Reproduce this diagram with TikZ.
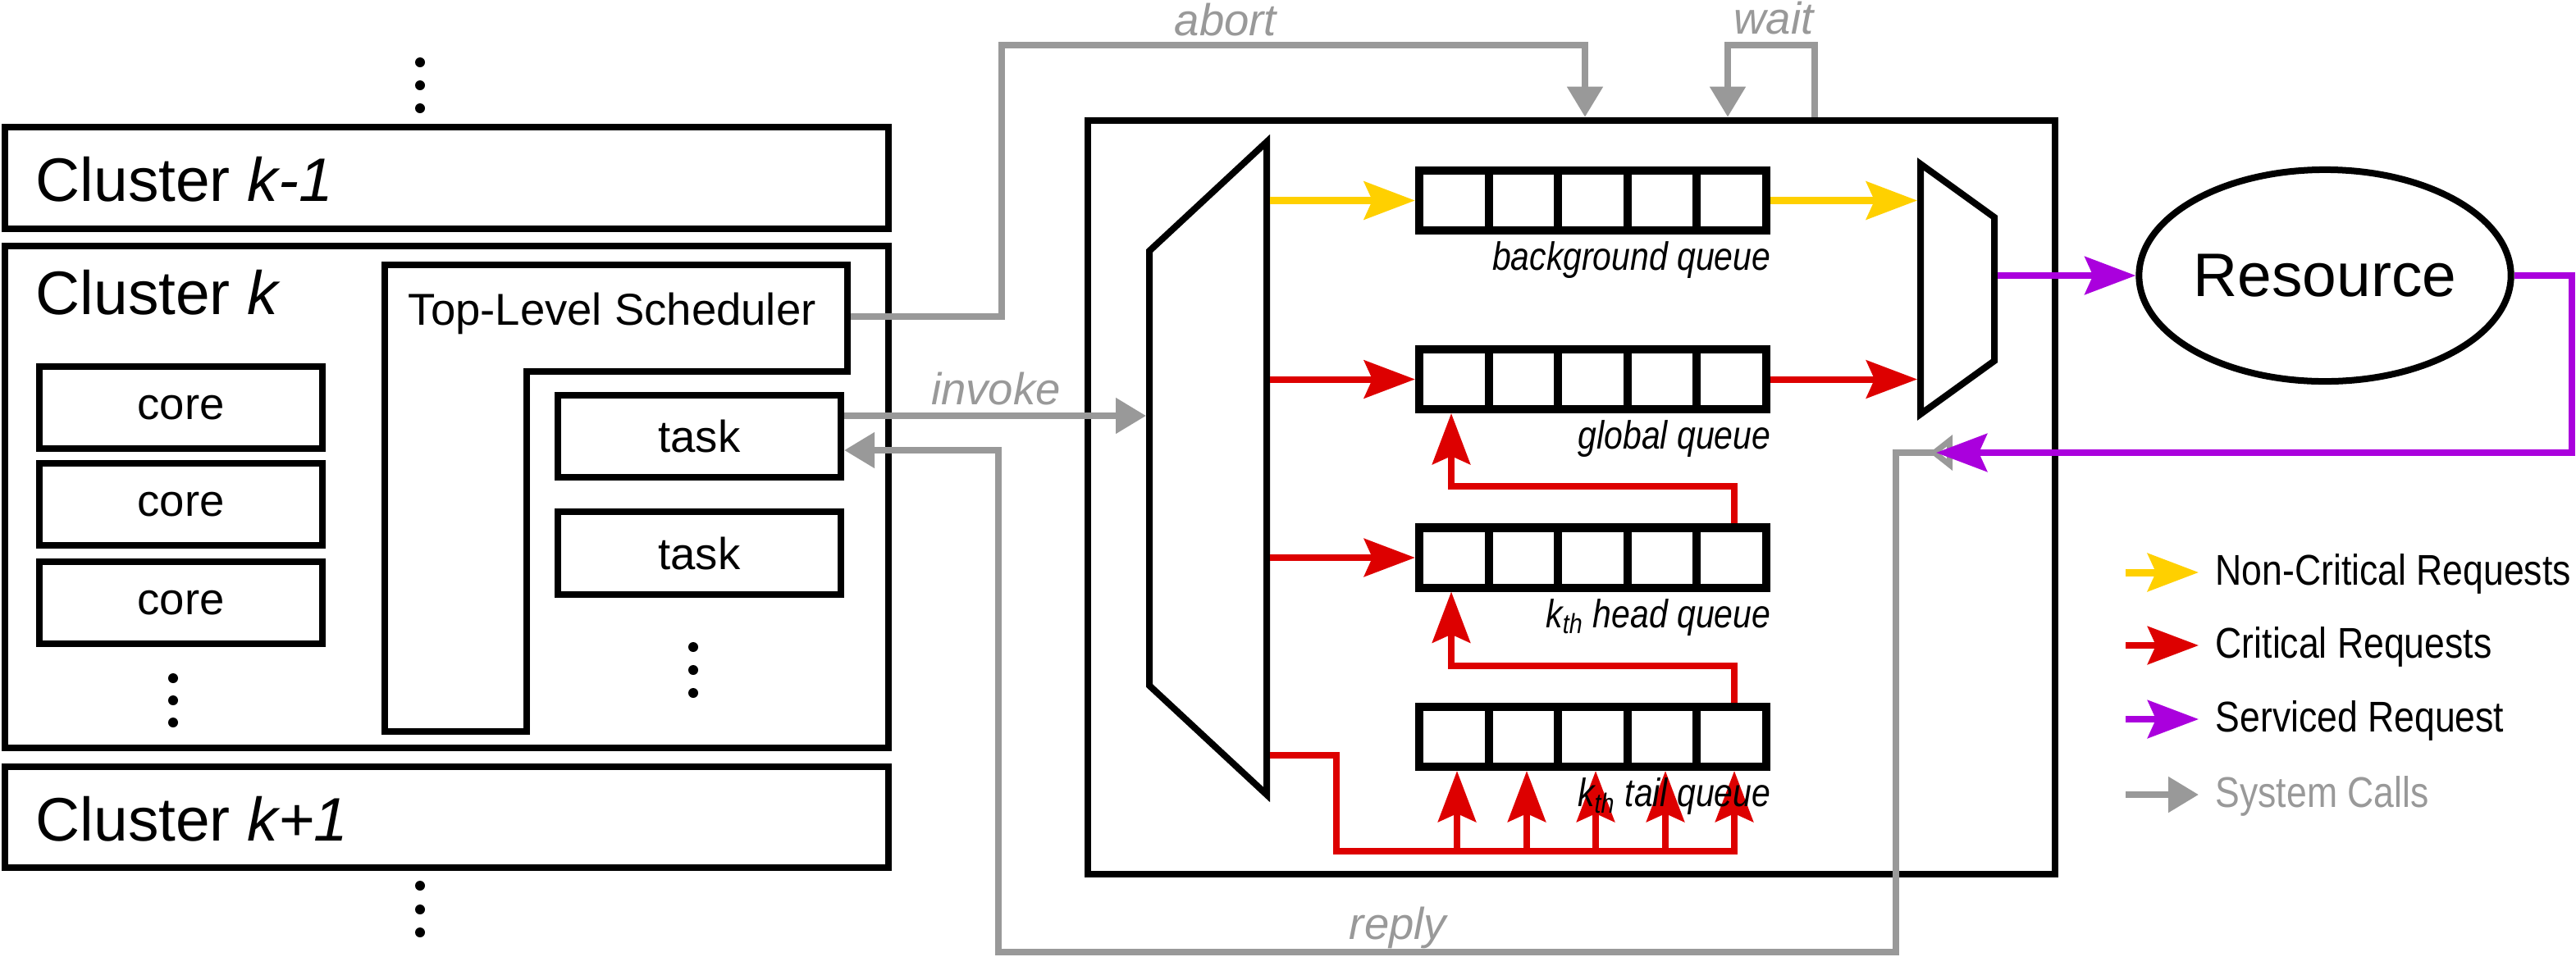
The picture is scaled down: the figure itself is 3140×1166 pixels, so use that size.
\documentclass[tikz,border=0pt]{standalone}
\usepackage{fontspec}
\setmainfont{Liberation Sans}
\newfontfamily\narrowfont[FakeStretch=0.85]{Liberation Sans}
\usetikzlibrary{arrows.meta,shapes.geometric,calc}
\definecolor{sysgray}{RGB}{153,153,153}
\definecolor{ncyellow}{RGB}{255,208,0}
\definecolor{crred}{RGB}{221,0,0}
\definecolor{svpurple}{RGB}{170,0,221}
\newcommand{\clfont}{\fontsize{21.3}{25}\selectfont}
\newcommand{\txfont}{\fontsize{15.5}{18}\selectfont}
\newcommand{\qfont}{\narrowfont\fontsize{13.7}{16}\selectfont\itshape}
\newcommand{\lgfont}{\narrowfont\fontsize{14.9}{17}\selectfont}
\begin{document}
\begin{tikzpicture}[x=0.01cm, y=-0.01cm,
    box/.style={draw, line width=0.08cm, inner sep=0pt},
    cluster/.style={box, minimum width=10.77cm},
    unit/.style={box, minimum width=3.45cm, minimum height=1cm, font=\txfont},
    queue/.style={draw, line width=0.1cm, inner sep=0pt, minimum width=4.23cm, minimum height=0.73cm},
    qlbl/.style={font=\qfont, anchor=base east, inner sep=0pt},
    syslbl/.style={font=\txfont\itshape, text=sysgray, anchor=base, inner sep=0pt},
    leglbl/.style={font=\lgfont, anchor=base west, inner sep=0pt},
    reqtip/.style={-{Stealth[length=0.62cm, width=0.46cm, inset=0.1cm]}},
    nreq/.style={draw=ncyellow, line width=0.09cm, reqtip},
    creq/.style={draw=crred, line width=0.08cm},
    creqa/.style={creq, reqtip},
    sreq/.style={draw=svpurple, line width=0.08cm},
    sreqa/.style={sreq, reqtip},
    sysc/.style={draw=sysgray, line width=0.08cm, -{Triangle[length=0.37cm, width=0.42cm]}}]
    \useasboundingbox (0,0) rectangle (3140,1166);

    % clusters
    \node[cluster, minimum height=1.24cm] (ckm) at (544.5,217) {};
    \node[cluster, minimum height=6.12cm] (ck) at (544.5,606) {};
    \node[cluster, minimum height=1.23cm] (ckp) at (544.5,996.5) {};
    \node[font=\clfont, anchor=base west, inner sep=0pt] (ckm-lbl) at (43,245) {Cluster \textit{k-1}};
    \node[font=\clfont, anchor=base west, inner sep=0pt] (ck-lbl) at (43,383) {Cluster \textit{k}};
    \node[font=\clfont, anchor=base west, inner sep=0pt] (ckp-lbl) at (43,1025) {Cluster \textit{k+1}};
    \foreach \y [count=\n] in {497,615,735}
        \node[unit] (core\n) at (220.5,\y) {core};
    \draw[box] (469,323) -- (1033,323) -- (1033,453) -- (642,453) -- (642,892) -- (469,892) -- cycle;
    \node[font=\txfont, anchor=base west, inner sep=0pt] (sched) at (497,396) {Top-Level Scheduler};
    \coordinate (sched-out) at (1037,386);
    \node[unit] (task1) at (852.5,532) {task};
    \node[unit] (task2) at (852.5,674.5) {task};
    \foreach \x/\y in {512/76, 512/104, 512/132, 512/1080, 512/1109, 512/1137,
                       211/827, 211/854, 211/881, 845/789, 845/817, 845/845}
        \fill (\x,\y) circle (0.06cm);

    % controller
    \node[box, minimum width=11.79cm, minimum height=9.19cm] (ctrl) at (1915.5,606.5) {};
    \draw[box] (1544,173) -- (1544,969) -- (1401,836) -- (1401,306) -- cycle;
    \draw[box] (2341,200) -- (2431,265) -- (2431,440) -- (2341,505) -- cycle;
    \coordinate (dm-in) at (1397,507);
    \foreach \q/\y/\txt in {bgq/244.5/background queue, glq/462.5/global queue,
                            hdq/680/k\textsubscript{th} head queue, tlq/898.5/k\textsubscript{th} tail queue} {
        \node[queue] (\q) at (1941.5,\y) {};
        \foreach \i in {1,...,4}
            \draw[line width=0.1cm] ({1730+84.6*\i},{\y-36.5}) -- ++(0,73);
        \coordinate (\q-src) at (1548,\y);
        \coordinate (\q-dst) at (2337,\y);
    }
    \node[qlbl] (bgq-lbl) at (2159,329.5) {background queue};
    \node[qlbl] (glq-lbl) at (2159,547.5) {global queue};
    \node[qlbl] (hdq-lbl) at (2159,765) {k\textsubscript{th} head queue};

    % requests
    \draw[nreq] (bgq-src) -- (bgq.west);
    \draw[nreq] (bgq.east) -- (bgq-dst);
    \draw[creqa] (glq-src) -- (glq.west);
    \draw[creqa] (glq.east) -- (glq-dst);
    \draw[creqa] (hdq-src) -- (hdq.west);
    \coordinate (tl-src) at (1548,921);
    \draw[creqa] (tl-src) -| (1629,1038) -| (2114,0 |- tlq.south);
    \foreach \x in {1776,1861,1945,2030}
        \draw[creqa] (\x,1038) -- (\x,0 |- tlq.south);
    \draw[creqa] (2114,0 |- tlq.north) |- (1769,812) -- (1769,0 |- hdq.south);
    \draw[creqa] (2114,0 |- hdq.north) |- (1769,593) -- (1769,0 |- glq.south);
    \node[qlbl] (tlq-lbl) at (2159,983.5) {k\textsubscript{th} tail queue};

    % resource
    \node[box, ellipse, minimum width=4.34cm, minimum height=2.58cm, font=\clfont] (res) at (2834,336) {Resource};
    \coordinate (rep-start) at (2380,552);
    \coordinate (svc-in) at (2360,552);
    \draw[sysc, {Triangle[reversed, fill=white, length=0.28cm, width=0.42cm]}-{Triangle[length=0.37cm, width=0.42cm]}]
        (rep-start) -- (2311,552) -- (2311,1161) -- (1217,1161) -- (1217,549) -- (task1.east |- 0,549);
    \draw[sreqa] (2435,0 |- res.west) -- (res.west);
    \draw[sreqa] (res.east) -| (3135,552) -- (svc-in);

    % system calls
    \draw[sysc] (sched-out) -| (1221,55) -| (1932,0 |- ctrl.north);
    \draw[sysc] (2212,0 |- ctrl.north) |- (2106,55) -- (2106,0 |- ctrl.north);
    \draw[sysc] (task1.east |- dm-in) -- (dm-in);
    \node[syslbl] (abort-lbl) at (1494,43) {abort};
    \node[syslbl] (wait-lbl) at (2162,41) {wait};
    \node[syslbl] (invoke-lbl) at (1214,493) {invoke};
    \node[syslbl] (reply-lbl) at (1704,1145) {reply};

    % legend
    \foreach \y/\st/\col/\txt [count=\n] in {698/nreq/black/Non-Critical Requests, 787/creqa/black/Critical Requests,
                                             877/sreqa/black/Serviced Request, 969/sysc/sysgray/System Calls} {
        \coordinate (leg\n) at (2591,\y);
        \draw[\st] (leg\n) -- ++(89,0);
        \node[leglbl, text=\col] (leg\n-txt) at (2700,\y+15) {\txt};
    }
\end{tikzpicture}
\end{document}
